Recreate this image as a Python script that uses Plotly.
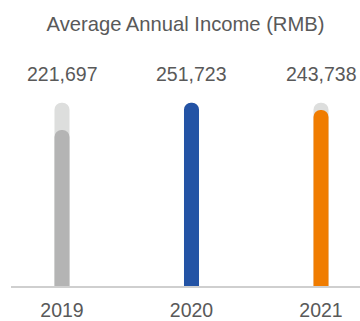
import plotly.graph_objects as go

# Average annual income per year (RMB)
years = ["2019", "2020", "2021"]
income = [221697, 251723, 243738]
bar_colors = ["#b4b4b4", "#2353a5", "#f07c00"]
track_color = "#dddedd"
text_color = "#595959"
font_family = "Liberation Sans, Arial, sans-serif"

peak = max(income)
y_floor = 50000
# pixel geometry of the plot area
plot_top_px, plot_bottom_px, peak_px = 93, 291, 103
px_per_unit = (plot_bottom_px - peak_px) / (peak - y_floor)
y_ceiling = peak + (peak_px - plot_top_px) / px_per_unit

x_pos = [0, 1, 2]
bar_w = 0.116

fig = go.Figure()
# background "track" bars, all at the peak value
fig.add_trace(go.Bar(
    x=x_pos, y=[peak] * len(years), width=bar_w,
    marker=dict(color=track_color, cornerradius=8, line=dict(width=0)),
    hoverinfo="skip", showlegend=False, xaxis="x", yaxis="y",
))
# actual values, on overlaid axes so each bar keeps its own rounded cap
fig.add_trace(go.Bar(
    x=x_pos, y=income, width=bar_w,
    marker=dict(color=bar_colors, cornerradius=8, line=dict(width=0)),
    showlegend=False, xaxis="x2", yaxis="y2",
))

width_px, height_px = 360, 321
left_px = 11
plot_w = width_px - left_px
unit_px = 129.5
x0 = -(62 - left_px) / unit_px
x1 = x0 + plot_w / unit_px

# value labels above each bar (~74 px from the top)
label_y = (height_px - 74 - (height_px - plot_bottom_px)) / (plot_bottom_px - plot_top_px)
for xi, v in zip(x_pos, income):
    fig.add_annotation(
        x=xi, y=label_y, xref="x", yref="paper",
        text=f"{v:,}", showarrow=False,
        font=dict(size=19.5, color=text_color, family=font_family),
        yanchor="middle", xanchor="center",
    )

fig.update_layout(
    width=width_px, height=height_px,
    margin=dict(l=left_px, r=0, t=plot_top_px, b=height_px - plot_bottom_px),
    barmode="overlay",
    paper_bgcolor="white", plot_bgcolor="white",
    title=dict(
        text="Average Annual Income (RMB)", x=0.5, xanchor="center",
        y=1 - 24 / height_px, yanchor="middle", xref="paper",
        font=dict(size=20.2, color=text_color, family=font_family),
    ),
    xaxis=dict(
        range=[x0, x1], tickvals=x_pos, ticktext=years,
        showgrid=False, zeroline=False, showline=True,
        linecolor="#cfcfcf", linewidth=2, ticks="", ticklabelstandoff=6,
        tickfont=dict(size=19.5, color=text_color, family=font_family),
    ),
    xaxis2=dict(range=[x0, x1], overlaying="x", visible=False),
    yaxis=dict(range=[y_floor, y_ceiling], visible=False),
    yaxis2=dict(range=[y_floor, y_ceiling], overlaying="y", visible=False),
)

fig.write_html("out.html")
